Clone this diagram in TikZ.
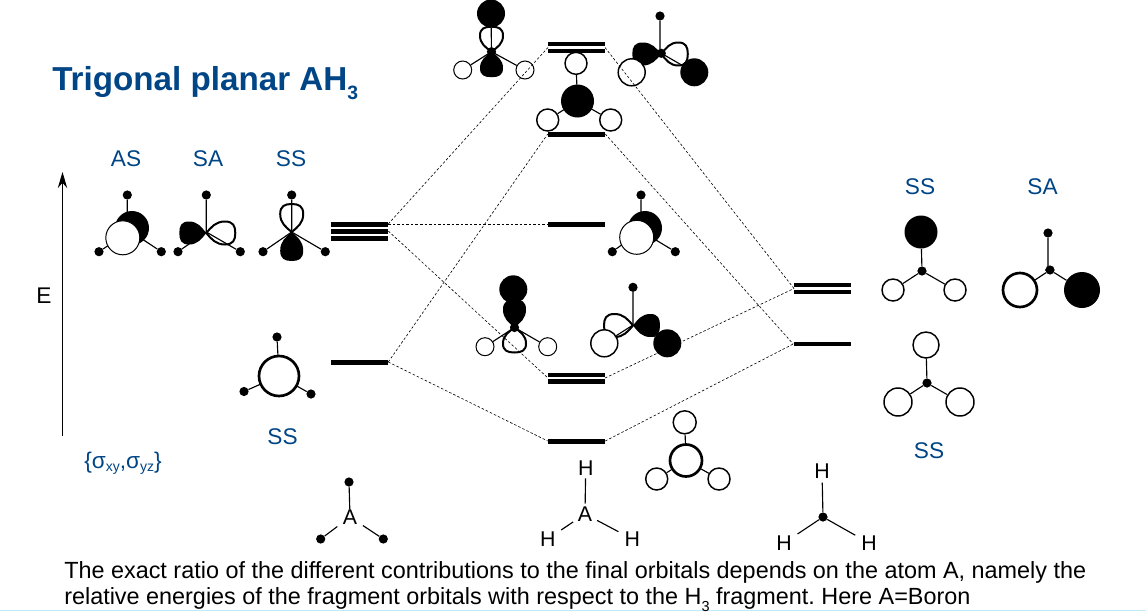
\documentclass[tikz,border=0pt]{standalone}
\usepackage{fontspec}
\usetikzlibrary{arrows.meta}
\setmainfont{Liberation Sans}
\frenchspacing
\pgfdeclarelayer{paper}
\pgfdeclarelayer{wire}
\pgfdeclarelayer{over}
\pgfsetlayers{paper,wire,main,over}
\definecolor{titleblue}{HTML}{004586}
\newcommand{\lowsc}[2][0.62]{\raisebox{-0.28ex}{\scalebox{#1}{#2}}}
% lobe: x, y, screen rotation, style, length in px
\newcommand{\lobe}[5]{\path[#4,shift={(#1,#2)},rotate=#3,yscale=#5/28]
  (0,0) .. controls (-6,-5) and (-11.5,-9) .. (-11.5,-18)
  .. controls (-11.5,-26) and (-7,-28) .. (0,-28)
  .. controls (7,-28) and (11.5,-26) .. (11.5,-18)
  .. controls (11.5,-9) and (6,-5) .. (0,0) -- cycle;}
\tikzset{
  bar/.style={fill=black,inner sep=0pt,minimum width=42.75pt,minimum height=#1*0.75pt},
  dotb/.style={circle,fill=black,inner sep=0pt,minimum size=6.9pt},
  wh/.style={circle,draw=black,fill=white,line width=1.1pt,inner sep=0pt,minimum size=#1*1.5pt},
  whthin/.style={circle,draw=black,fill=white,line width=0.75pt,inner sep=0pt,minimum size=#1*1.5pt},
  whthick/.style={circle,draw=black,fill=white,line width=2pt,inner sep=0pt,minimum size=#1*1.5pt},
  bk/.style={circle,fill=black,inner sep=0pt,minimum size=#1*1.5pt},
  lobeblack/.style={fill=black,line join=round},
  lobeline/.style={draw=black,line width=1.5pt,line join=round},
  wirel/.style={draw=black,line width=0.85pt},
  dashl/.style={draw=black,line width=0.45pt,dash pattern=on 1.9pt off 1.5pt},
  lab/.style={text=titleblue,font=\fontsize{17pt}{19pt}\selectfont,inner sep=0pt},
  atomtxt/.style={text=black,font=\fontsize{16pt}{18pt}\selectfont,inner sep=0pt},
  body/.style={text=black,font=\fontsize{17.55pt}{20pt}\selectfont,inner sep=0pt,anchor=base west},
}
\begin{document}
\begin{tikzpicture}[x=0.75pt,y=-0.75pt]
\useasboundingbox (0,0) rectangle (1146,611);
\begin{pgfonlayer}{paper}
\fill[white] (0,0) rectangle (1146,611);
\fill[fill=cyan!25!white] (0,609.5) rectangle (1146,611);
\end{pgfonlayer}

% texts
\node[anchor=base west,inner sep=0pt,text=titleblue,font=\bfseries\fontsize{24.9pt}{28pt}\selectfont] (title) at (52,90) {Trigonal planar AH\raisebox{-0.3em}{\fontsize{14.5pt}{16pt}\selectfont 3}};
\node[lab] (tAS) at (126,159) {AS};
\node[lab] (tSA) at (208,159) {SA};
\node[lab] (tSS) at (291,159) {SS};
\node[lab] (tSSb) at (282.5,437) {SS};
\node[lab] (tSSr) at (920,187) {SS};
\node[lab] (tSAr) at (1042.5,187) {SA};
\node[lab] (tSSq) at (929,451) {SS};
\node[atomtxt,font=\fontsize{17pt}{18pt}\selectfont] (tE) at (44,296) {E};
\node[lab,anchor=base west] (tsym) at (84,468) {\{σ\lowsc{xy},σ\lowsc{yz}\}};
\node[body] (line1) at (64,578) {The exact ratio of the different contributions to the final orbitals depends on the atom A, namely the};
\node[body] (line2) at (64,604) {relative energies of the fragment orbitals with respect to the H\raisebox{-0.16em}{\lowsc[0.62]{3}} fragment. Here A=Boron};

% energy axis
\coordinate (ea) at (62.5,436);
\coordinate (eb) at (62.5,172);
\draw[line width=0.65pt,-{Stealth[length=12pt,width=7pt]}] (ea) -- (eb);

% levels
\node[bar=5] (a1) at (359.5,224) {};
\node[bar=5] (a2) at (359.5,231) {};
\node[bar=5] (a3) at (359.5,238) {};
\node[bar=5] (b1) at (359.5,362) {};
\node[bar=4.5] (m1a) at (576.5,44) {};
\node[bar=4.5] (m1b) at (576.5,51) {};
\node[bar=5] (m2) at (576.5,134) {};
\node[bar=5] (m3) at (576.5,224) {};
\node[bar=4.5] (m4a) at (576.5,375) {};
\node[bar=4.5] (m4b) at (576.5,381.5) {};
\node[bar=5] (m5) at (576.5,441) {};
\node[bar=4] (r1a) at (822,285) {};
\node[bar=4] (r1b) at (822,292) {};
\node[bar=4.5] (r2) at (822,344) {};
\coordinate (mtopL) at (548,47.5);
\coordinate (mtopR) at (605,47.5);
\coordinate (m4L) at (548,378);
\coordinate (m4R) at (605,378);
\coordinate (r1L) at (794,288.5);

% AS orbital
\coordinate (cAS) at (130,231);
\node[dotb] (asT) at (127.3,195) {};
\node[dotb] (asL) at (99,251.7) {};
\node[dotb] (asR) at (161.3,251.7) {};
\node[bk=17] (asK) at (132,228) {};
\node[whthin=17] (asW) at (122.8,237.8) {};
% SA orbital
\coordinate (cSA) at (206.3,232);
\node[dotb] (saT) at (206.3,195) {};
\node[dotb] (saL) at (178,251.7) {};
\node[dotb] (saR) at (240.3,251.7) {};
\lobe{206.3}{233}{90}{lobeblack}{27}
\lobe{206.3}{233}{-90}{lobeline}{29}
% SS orbital
\coordinate (cSS) at (291.7,232);
\node[dotb] (ssT) at (291.7,195) {};
\node[dotb] (ssL) at (263,251.7) {};
\node[dotb] (ssR) at (325.3,251.7) {};
\lobe{291.7}{232}{0}{lobeline}{28}
\lobe{291.7}{232}{180}{lobeblack}{29}
% lower-left SS
\coordinate (cSb) at (279,376);
\node[dotb] (sbT) at (277,337) {};
\node[dotb] (sbL) at (244,391.5) {};
\node[dotb] (sbR) at (311,394) {};
\node[whthick=20] (sbW) at (cSb) {};

% top left MO
\coordinate (cT1) at (491.5,51.7);
\node[bk=14] (t1K) at (491,13.5) {};
\node[whthin=9] (t1L) at (462.7,70) {};
\node[whthin=9] (t1R) at (525,70) {};
\node[dotb] (t1C) at (cT1) {};
\lobe{491.5}{51.7}{0}{lobeline}{25}
\lobe{491.5}{51.7}{180}{lobeblack}{25.5}
% top middle MO
\coordinate (cT2) at (577.5,101);
\node[wh=11] (t2T) at (576,63.3) {};
\node[bk=16.5] (t2K) at (cT2) {};
\node[wh=11] (t2L) at (547.7,120) {};
\node[wh=11] (t2R) at (610.7,120) {};
% top right MO
\coordinate (cT3) at (661.3,53.3);
\node[dotb] (t3T) at (660,16) {};
\lobe{661.3}{54}{90}{lobeblack}{29}
\lobe{661.3}{54}{-90}{lobeline}{26.5}
\node[wh=13.5] (t3W) at (631.7,72.3) {};
\node[bk=14] (t3K) at (694.3,72.3) {};
\node[dotb] (t3C) at (cT3) {};

% level 224 MO
\coordinate (cM) at (641,231);
\node[dotb] (mT) at (641,195) {};
\node[dotb] (mL) at (612.3,251.7) {};
\node[dotb] (mR) at (675.3,251.7) {};
\node[bk=17] (mK) at (645,228) {};
\node[whthin=17] (mW) at (636.7,237.3) {};

% level 375 left MO
\coordinate (cN) at (514.5,327.5);
\node[bk=14] (nK) at (513.3,289.3) {};
\lobe{514.5}{327.5}{0}{lobeblack}{28}
\lobe{514.5}{327.5}{180}{lobeline}{25}
\node[whthin=9] (nL) at (485,346.7) {};
\node[whthin=9] (nR) at (547.7,346.7) {};
\node[dotb] (nC) at (cN) {};
% level 375 right MO
\coordinate (cP) at (633,325);
\node[dotb] (pT) at (633,287.3) {};
\lobe{633}{325.5}{-90}{lobeblack}{27}
\lobe{633}{325.5}{90}{lobeline}{29}
\node[wh=13.5] (pW) at (604.3,343.3) {};
\node[bk=14] (pK) at (667.3,343.3) {};

% bottom MO
\node[whthick=16] (qC) at (686,460.5) {};
\node[wh=11.5] (qT) at (684.7,422.3) {};
\node[wh=11] (qL) at (656.7,479) {};
\node[wh=11] (qR) at (719,479) {};

% right fragment SS
\node[dotb] (uC) at (922,271) {};
\node[bk=16.5] (uK) at (921,232) {};
\node[wh=11] (uL) at (893,290) {};
\node[wh=11] (uR) at (955,290) {};
% right fragment SA
\node[dotb] (vC) at (1050,270) {};
\node[dotb] (vT) at (1048,233) {};
\node[whthick=17] (vW) at (1020,290) {};
\node[bk=18] (vK) at (1082,290) {};
% right fragment lower SS
\node[dotb] (wC) at (927,383) {};
\node[wh=13] (wT) at (926,345) {};
\node[wh=14] (wL) at (898,402) {};
\node[wh=14] (wR) at (960,402) {};

% A skeleton
\node[atomtxt] (xA) at (350,517) {A};
\node[dotb] (xT) at (349,482) {};
\node[dotb] (xL) at (320.7,539) {};
\node[dotb] (xR) at (383.3,539) {};
% HAH skeleton
\node[atomtxt] (yA) at (585,514) {A};
\node[atomtxt] (yT) at (585.7,468) {H};
\node[atomtxt] (yL) at (547.7,539) {H};
\node[atomtxt] (yR) at (632.3,539) {H};
% H3 skeleton
\node[dotb] (zC) at (823,517) {};
\node[atomtxt] (zT) at (822,471) {H};
\node[atomtxt] (zL) at (784,543) {H};
\node[atomtxt] (zR) at (869,543) {H};

\begin{pgfonlayer}{wire}
\path[wirel] (asT) -- (asT |- cAS) (cAS) -- (asL) (cAS) -- (asR);
\path[wirel] (cSA) -- (saT) (cSA) -- (saL) (cSA) -- (saR);
\path[wirel] (cSS) -- (ssT) (cSS) -- (ssL) (cSS) -- (ssR);
\path[wirel] (cSb) -- (sbT) (cSb) -- (sbL) (cSb) -- (sbR);
\path[wirel] (cT1) -- (t1K) (cT1) -- (t1L) (cT1) -- (t1R);
\path[wirel] (cT2) -- (t2T) (cT2) -- (t2L) (cT2) -- (t2R);
\path[wirel] (t3T) -- (t3T |- cT3) (cT3) -- (t3W) (cT3) -- (t3K);
\path[wirel] (cM) -- (mT) (cM) -- (mL) (cM) -- (mR);
\path[wirel] (cN) -- (nK) (cN) -- (nL) (cN) -- (nR);
\path[wirel] (cP) -- (pT) (cP) -- (pW) (cP) -- (pK);
\path[wirel] (qC) -- (qT) (qC) -- (qL) (qC) -- (qR);
\path[wirel] (uC) -- (uK) (uC) -- (uL) (uC) -- (uR);
\path[wirel] (vT) -- (vT |- vC) -- (vC) (vC) -- (vW) (vC) -- (vK);
\path[wirel] (wC) -- (wT) (wC) -- (wL) (wC) -- (wR);
\path[wirel] (xA) -- (xT);
\path[wirel,shorten <=5pt] (xA) -- (xL);
\path[wirel,shorten <=5pt] (xA) -- (xR);
\path[wirel,shorten <=2pt,shorten >=2pt] (yA) -- (yT);
\path[wirel,shorten <=4pt,shorten >=5pt] (yA) -- (yL);
\path[wirel,shorten <=4pt,shorten >=5pt] (yA) -- (yR);
\path[wirel,shorten >=3pt] (zC) -- (zT);
\path[wirel,shorten >=5pt] (zC) -- (zL);
\path[wirel,shorten >=5pt] (zC) -- (zR);
\end{pgfonlayer}

\begin{pgfonlayer}{over}
\path[dashl] (a1.east) -- (mtopL);
\path[dashl] (a1.east) -- (m3.west);
\path[dashl] (a2.east) -- (m4L);
\path[dashl] (b1.east) -- (m2.west);
\path[dashl] (b1.east) -- (m5.west);
\path[dashl] (mtopR) -- (r1L);
\path[dashl] (m2.east) -- (r2.west);
\path[dashl] (m4R) -- (r1L);
\path[dashl] (m5.east) -- (r2.west);
\end{pgfonlayer}
\end{tikzpicture}
\end{document}
